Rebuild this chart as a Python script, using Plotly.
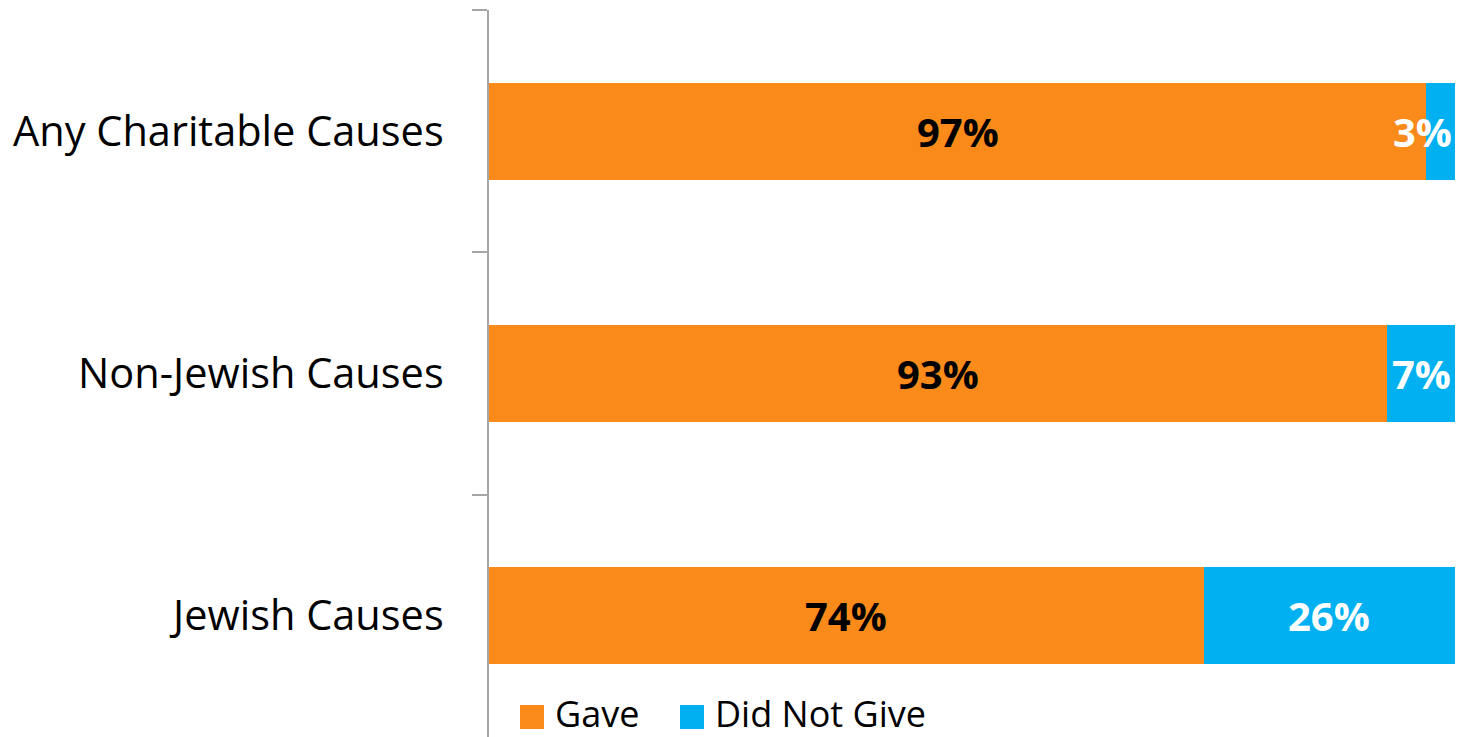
import plotly.graph_objects as go

# Share of respondents who gave / did not give, by type of cause
categories = ["Any Charitable Causes", "Non-Jewish Causes", "Jewish Causes"]
gave = [97, 93, 74]
did_not_give = [3, 7, 26]
series_names = ["Gave", "Did Not Give"]

ORANGE = "#FA8A1A"
BLUE = "#00B0F0"
FONT = "Open Sans"

W, H = 1458, 737
M_L, M_R, M_T, M_B = 489, 3, 10, 0
PW, PH = W - M_L - M_R, H - M_T - M_B

fig = go.Figure()
fig.add_trace(go.Bar(y=categories, x=gave, orientation="h", name=series_names[0],
                     marker=dict(color=ORANGE, line=dict(width=0)), width=0.4))
fig.add_trace(go.Bar(y=categories, x=did_not_give, orientation="h", name=series_names[1],
                     marker=dict(color=BLUE, line=dict(width=0)), width=0.4))

# Value labels centred in each segment; narrow segments are pulled inside the plot edge
annotations = []
for cat, g, d in zip(categories, gave, did_not_give):
    annotations.append(dict(x=g / 2, y=cat, xref="x", yref="y", text=f"<b>{g}%</b>",
                            showarrow=False, font=dict(family=FONT, size=40, color="black")))
    if d < 5:
        annotations.append(dict(x=g + d, y=cat, xref="x", yref="y", xanchor="right", xshift=-1,
                                text=f"<b>{d}%</b>", showarrow=False,
                                font=dict(family=FONT, size=40, color="white")))
    else:
        annotations.append(dict(x=g + d / 2, y=cat, xref="x", yref="y", text=f"<b>{d}%</b>",
                                showarrow=False, font=dict(family=FONT, size=40, color="white")))

# Legend drawn as swatches + labels along the bottom of the plot area
shapes = []
def px_x(px):
    return (px - M_L) / PW
def px_y(py):
    return (H - M_B - py) / PH

legend_items = [(series_names[0], ORANGE, 520), (series_names[1], BLUE, 680)]
for name, color, x0 in legend_items:
    shapes.append(dict(type="rect", xref="paper", yref="paper",
                       x0=px_x(x0), x1=px_x(x0 + 24), y0=px_y(729), y1=px_y(705),
                       fillcolor=color, line=dict(width=0)))
    annotations.append(dict(x=px_x(x0 + 33), y=px_y(713), xref="paper", yref="paper",
                            xanchor="left", yanchor="middle", text=name, showarrow=False,
                            font=dict(family=FONT, size=36, color="black")))

fig.update_layout(
    barmode="stack",
    width=W, height=H,
    margin=dict(l=M_L, r=M_R, t=M_T, b=M_B, pad=0),
    paper_bgcolor="white", plot_bgcolor="white",
    showlegend=False,
    bargap=0.6,
    annotations=annotations,
    shapes=shapes,
    xaxis=dict(range=[0, 100], visible=False, showgrid=False, zeroline=False, fixedrange=True),
    yaxis=dict(categoryorder="array", categoryarray=categories, autorange="reversed",
               showline=True, linecolor="#A6A6A6", linewidth=2,
               ticks="outside", tickson="boundaries", ticklen=15, tickwidth=2, tickcolor="#A6A6A6",
               ticklabelstandoff=35, showgrid=False, zeroline=False,
               tickfont=dict(family=FONT, size=41.5, color="black")),
)

fig.write_html("out.html")
